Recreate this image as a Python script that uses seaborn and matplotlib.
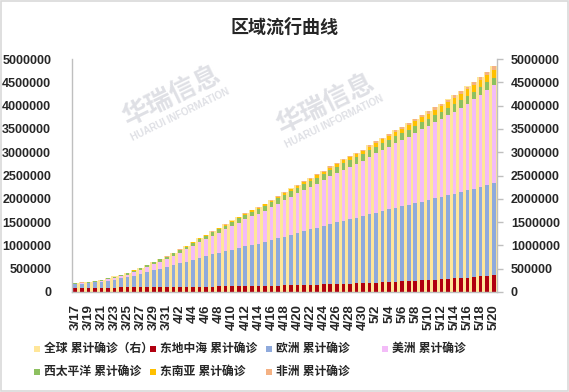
import matplotlib
matplotlib.use('Agg')
import matplotlib.pyplot as plt
import seaborn as sns
import numpy as np
import pandas as pd
from matplotlib.patches import Rectangle
from matplotlib.ticker import FuncFormatter

# dates 3/17 .. 5/20
dates = [f"{d.month}/{d.day}" for d in pd.date_range('2020-03-17', '2020-05-20')]

# values, in thousands of cases
global_k = [192, 205, 223, 243, 266, 301, 333, 371, 413, 465, 521, 584, 650, 709, 765,
            841, 915, 992, 1073, 1158, 1231, 1303, 1376, 1456, 1535, 1615, 1696, 1761, 1825, 1896,
            1974, 2059, 2143, 2222, 2301, 2378, 2452, 2523, 2605, 2695, 2774, 2850, 2920, 2983, 3052,
            3147, 3231, 3314, 3393, 3472, 3547, 3627, 3715, 3805, 3881, 3962, 4044, 4131, 4219, 4314,
            4410, 4511, 4613, 4729, 4844]
emro_k = [92, 92, 93, 93, 94, 95, 96, 97, 98, 99, 101, 102, 104, 105, 106,
          108, 110, 112, 114, 115, 117, 118, 119, 120, 121, 122, 124, 125, 127, 130,
          133, 137, 140, 143, 146, 150, 154, 158, 163, 168, 172, 177, 182, 187, 192,
          198, 203, 209, 215, 221, 227, 234, 241, 249, 256, 264, 272, 281, 290, 300,
          311, 322, 335, 352, 368]
europe_k = [75, 85, 98, 112, 128, 151, 171, 195, 220, 250, 286, 324, 361, 393, 422,
            465, 502, 540, 580, 621, 655, 687, 720, 756, 790, 825, 860, 888, 913, 945,
            980, 1015, 1050, 1085, 1125, 1157, 1190, 1222, 1258, 1296, 1325, 1356, 1383, 1410, 1437,
            1469, 1500, 1530, 1556, 1582, 1608, 1634, 1663, 1693, 1719, 1744, 1770, 1795, 1820, 1846,
            1872, 1898, 1922, 1945, 1968]
americas_k = [5, 6.5, 9, 13, 17, 25, 33, 44, 57, 74, 88, 108, 131, 153, 175,
              200, 230, 262, 296, 333, 364, 397, 430, 467, 505, 543, 580, 610, 640, 670,
              705, 745, 785, 820, 850, 885, 915, 945, 980, 1020, 1060, 1093, 1125, 1150, 1180,
              1230, 1270, 1310, 1350, 1390, 1425, 1465, 1510, 1555, 1590, 1630, 1670, 1715, 1760, 1810,
              1860, 1915, 1970, 2035, 2100]
wpro_k = [18, 19, 20, 22, 24, 26, 28, 30, 32, 35, 38, 41, 44, 47, 50,
          54, 57, 61, 64, 68, 72, 75, 79, 83, 87, 91, 95, 99, 103, 106,
          109, 112, 115, 118, 121, 124, 127, 129, 131, 133, 135, 137, 139, 140, 142,
          143, 145, 146, 147, 148, 150, 151, 152, 153, 154, 155, 156, 157, 158, 159,
          160, 161, 162, 164, 165]
searo_k = [1.0, 1.1, 1.3, 1.5, 1.8, 2.1, 2.5, 3.0, 3.5, 4.0, 4.6, 5.2, 6.0, 6.7, 7.5,
           8.5, 9.7, 11, 12.5, 14, 15.5, 17, 18.5, 20, 21.5, 23, 25, 27, 29, 31,
           33, 35, 37, 39, 41, 43.5, 46, 48.5, 51, 54, 57, 60, 63, 66, 69,
           73, 77, 81, 85, 89, 93, 97, 101, 105, 110, 115, 120, 125, 131, 137,
           143, 149, 156, 163, 171]
afro_k = [0.4, 0.5, 0.6, 0.8, 1.0, 1.2, 1.4, 1.7, 2.0, 2.3, 2.6, 3.0, 3.4, 3.8, 4.2,
          4.7, 5.2, 5.7, 6.2, 6.8, 7.4, 8.0, 8.6, 9.2, 9.8, 10.4, 11, 11.6, 12.2, 12.9,
          13.6, 14.4, 15.2, 16, 17, 18, 19, 20, 21.5, 23, 24.5, 26, 27.5, 29, 31,
          33, 35, 37, 39, 41, 43, 45, 47, 49, 51, 53, 55, 57, 59, 61,
          63, 65, 67, 69, 71]

names = ['全球 累计确诊（右）', '东地中海 累计确诊', '欧洲 累计确诊', '美洲 累计确诊',
         '西太平洋 累计确诊', '东南亚 累计确诊', '非洲 累计确诊']
colors = ['#FFE699', '#B00010', '#8FAADC', '#F3BCF8', '#8DC060', '#FFC000', '#F4B183']

sns.set_theme(style='white')
plt.rcParams['font.family'] = ['Liberation Sans', 'Noto Sans CJK SC', 'DejaVu Sans']
plt.rcParams['font.weight'] = 'bold'

W, H = 569, 392
fig = plt.figure(figsize=(W / 100, H / 100), dpi=100)
ax = fig.add_axes([72 / W, 1 - 292 / H, 425 / W, 233 / H])
ax2 = ax.twinx()

# global total on the right axis, wide bars behind
df = pd.DataFrame({'date': dates, 'total': np.array(global_k) * 1000})
sns.barplot(data=df, x='date', y='total', ax=ax2, color=colors[0], width=1.0,
            saturation=1, errorbar=None, linewidth=0)

# regions stacked on the left axis
x = np.arange(len(dates))
bottom = np.zeros(len(dates))
for vals, c in zip([emro_k, europe_k, americas_k, wpro_k, searo_k, afro_k], colors[1:]):
    v = np.array(vals) * 1000
    ax.bar(x, v, 0.55, bottom=bottom, color=c, linewidth=0)
    bottom += v

ax.set_zorder(ax2.get_zorder() + 1)
ax.patch.set_visible(False)

ax.set_xlim(-0.5, len(dates) - 0.5)
fmt = FuncFormatter(lambda v, p: f"{int(v)}")
for a in (ax, ax2):
    a.set_ylim(0, 5000000)
    a.set_yticks(np.arange(0, 5000001, 500000))
    a.yaxis.set_major_formatter(fmt)
    a.set_xlabel('')
    a.set_ylabel('')
    a.spines['top'].set_visible(False)
    for s in ('left', 'right', 'bottom'):
        a.spines[s].set_color('#bfbfbf')
        a.spines[s].set_linewidth(1)
ax.spines['right'].set_visible(False)
ax2.spines['left'].set_visible(False)
ax2.spines['bottom'].set_visible(False)

ax.set_xticks(x[::2])
ax.set_xticklabels(dates[::2], rotation=90)
ax.tick_params(axis='x', bottom=False, pad=3, labelsize=9.5)
ax.tick_params(axis='y', left=False, pad=9, labelsize=9)
ax2.tick_params(axis='y', right=True, length=4, width=1, color='#bfbfbf', pad=6, labelsize=9)

fig.text(0.5, 1 - 28 / H, '区域流行曲线', ha='center', va='center', fontsize=13, fontweight='bold')

# watermark
for cx, cy, sx, sy in [(171, 96, 180, 115), (325, 104, 334, 122)]:
    fig.text(cx / W, 1 - cy / H, '华瑞信息', rotation=26, ha='center', va='center',
             fontsize=19, color='#dfe0e5', zorder=0)
    fig.text(sx / W, 1 - sy / H, 'HUARUI INFORMATION', rotation=26, ha='center', va='center',
             fontsize=7, color='#dfe0e5', zorder=0)

# legend laid out like the original
cols = [34, 150, 266, 382]
rows = [349, 372]
for k, (name, c) in enumerate(zip(names, colors)):
    r, cidx = divmod(k, 4)
    x0, y0 = cols[cidx], rows[r]
    fig.patches.append(Rectangle((x0 / W, 1 - (y0 + 3) / H), 6 / W, 6 / H,
                                 transform=fig.transFigure, color=c, linewidth=0))
    fig.text((x0 + 10) / W, 1 - y0 / H, name, va='center', ha='left', fontsize=8.5)

fig.patches.append(Rectangle((0.001, 0.002), 0.997, 0.996, fill=False, edgecolor='#d9d9d9',
                             linewidth=1.2, transform=fig.transFigure))

fig.savefig('out.png', dpi=100)
